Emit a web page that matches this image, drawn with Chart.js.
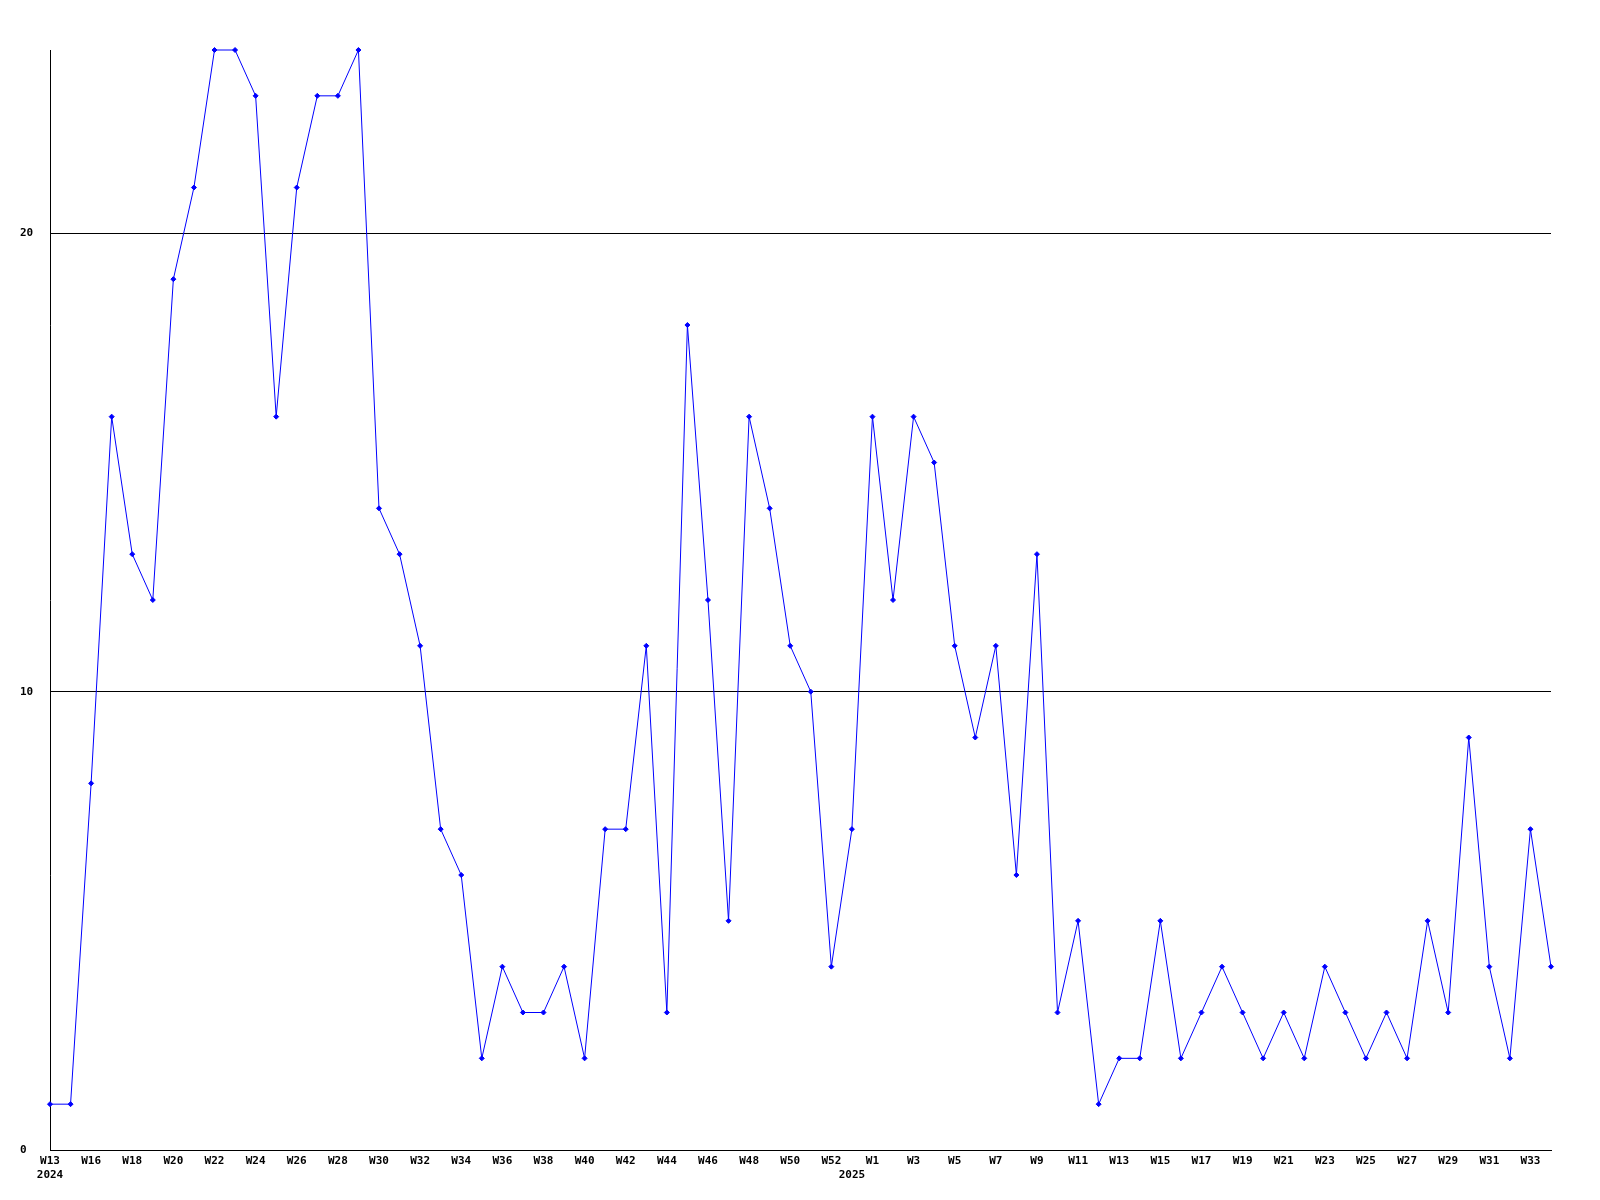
<!DOCTYPE html>
<html>
<head>
<meta charset="utf-8">
<title>Weekly count</title>
<script src="https://cdn.jsdelivr.net/npm/chart.js@4/dist/chart.umd.min.js"></script>
<style>
    html, body { margin: 0; padding: 0; background: #fff; }
    #wrap { width: 1600px; height: 1200px; }
</style>
</head>
<body>
<div id="wrap"><canvas id="chart" width="1600" height="1200"></canvas></div>
<script>
// ---- data ----
const weeks2024 = ['W13','W14','W15','W16','W17','W18','W19','W20','W21','W22','W23','W24','W25','W26',
    'W27','W28','W29','W30','W31','W32','W33','W34','W35','W36','W37','W38','W39','W40','W41','W42',
    'W43','W44','W45','W46','W47','W48','W49','W50','W51','W52'];
const weeks2025 = ['W1','W2','W3','W4','W5','W6','W7','W8','W9','W10','W11','W12','W13','W14','W15',
    'W16','W17','W18','W19','W20','W21','W22','W23','W24','W25','W26','W27','W28','W29','W30','W31',
    'W32','W33','W34'];
const categories = weeks2024.concat(weeks2025);

const counts = [1, 1, 8, 16, 13, 12, 19, 21, 24, 24, 23, 16, 21, 23, 23, 24, 14, 13, 11, 7,
    6, 2, 4, 3, 3, 4, 2, 7, 7, 11, 3, 18, 12, 5, 16, 14, 11, 10, 4, 7,
    16, 12, 16, 15, 11, 9, 11, 6, 13, 3, 5, 1, 2, 2, 5, 2, 3, 4, 3, 2,
    3, 2, 4, 3, 2, 3, 2, 5, 3, 9, 4, 2, 7, 4];

// labels shown under every second point (as in the original)
const tickLabels = ['W13','W16','W18','W20','W22','W24','W26','W28','W30','W32','W34','W36','W38',
    'W40','W42','W44','W46','W48','W50','W52','W1','W3','W5','W7','W9','W11','W13','W15','W17',
    'W19','W21','W23','W25','W27','W29','W31','W33'];
// year shown on the second line, keyed by point index
const yearLabels = { 0: '2024', 39: '2025' };
const yTicks = [0, 10, 20];

const tickFont = { family: '"DejaVu Sans Mono", monospace', size: 11, weight: 'bold' };

new Chart(document.getElementById('chart'), {
    type: 'line',
    data: {
        labels: categories,
        datasets: [{
            data: counts,
            borderColor: '#0000ff',
            backgroundColor: '#0000ff',
            borderWidth: 1,
            tension: 0,
            clip: false,
            pointStyle: 'rectRot',
            pointRadius: 2.5,
            pointBorderWidth: 1,
            pointHoverRadius: 2.5
        }]
    },
    options: {
        responsive: false,
        animation: false,
        events: [],
        layout: { padding: { left: 20, top: 50, right: 49, bottom: 0 } },
        plugins: { legend: { display: false }, tooltip: { enabled: false } },
        scales: {
            x: {
                type: 'category',
                offset: false,
                grid: { display: false, drawTicks: false },
                border: { display: true, color: '#000', width: 1 },
                afterFit: s => { s.height = 50; },
                ticks: {
                    autoSkip: false,
                    maxRotation: 0,
                    minRotation: 0,
                    padding: 5,
                    color: '#000',
                    font: tickFont,
                    callback: function (value, index) {
                        const lbl = index % 2 === 0 ? tickLabels[index / 2] : '';
                        if (yearLabels[index]) return [lbl, yearLabels[index]];
                        return lbl;
                    }
                }
            },
            y: {
                min: 0,
                max: 24,
                afterBuildTicks: s => { s.ticks = yTicks.map(v => ({ value: v })); },
                afterFit: s => { s.width = 30; },
                grid: { color: '#000', lineWidth: 1, drawTicks: false },
                border: { display: true, color: '#000', width: 1 },
                ticks: {
                    crossAlign: 'far',
                    padding: 17,
                    color: '#000',
                    font: tickFont
                }
            }
        }
    }
});
</script>
</body>
</html>
